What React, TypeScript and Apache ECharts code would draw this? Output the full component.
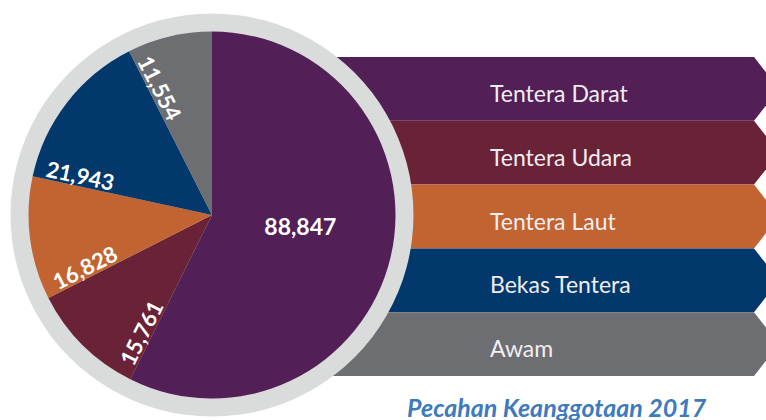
import React, { useEffect, useRef } from "react";
import * as echarts from "echarts";

const CATEGORIES = ["Tentera Darat", "Tentera Udara", "Tentera Laut", "Bekas Tentera", "Awam"];
const VALUES = [88847, 15761, 16828, 21943, 11554];
const COLORS = ["#521f57", "#6a2237", "#c26431", "#02386b", "#6d6e71"];
const TITLE = "Pecahan Keanggotaan 2017";

const CX = 212;
const CY = 215;
const R = 183.5;
const RING_R = 201.5;
const LABEL_DIST = 137;
const LABEL_OFFSET = 11;
const MAIN_LABEL = { r: 89, deg: -7 };

const TOTAL = VALUES.reduce((a, b) => a + b, 0);
const START_ANGLES: number[] = [];
{
  let acc = 0;
  for (const v of VALUES) {
    START_ANGLES.push(90 - (acc / TOTAL) * 360);
    acc += v;
  }
}

function norm(d: number) {
  let r = d % 360;
  if (r > 180) r -= 360;
  if (r <= -180) r += 360;
  return r;
}

export default function App() {
  const ref = useRef<HTMLDivElement>(null);
  useEffect(() => {
    if (!ref.current) return;
    const chart = echarts.init(ref.current, undefined, { renderer: "svg" });
    const toRad = Math.PI / 180;
    chart.setOption({
      animation: false,
      title: {
        text: TITLE,
        left: 407,
        top: 394,
        padding: 0,
        textStyle: {
          fontFamily: "Lato",
          fontStyle: "italic",
          fontWeight: "bold",
          fontSize: 25,
          color: "#3d7bbd",
        },
      },
      grid: { left: 300, right: 0, top: 57, bottom: 44 },
      xAxis: { type: "value", min: 0, max: 1, show: false },
      yAxis: { type: "category", data: CATEGORIES, inverse: true, show: false },
      series: [
        {
          type: "custom",
          z: 1,
          silent: true,
          encode: { x: 0, y: 1 },
          data: CATEGORIES.map((c) => [1, c]),
          renderItem: (params: any, api: any) => {
            const idx = params.dataIndex;
            const yc = api.coord([0, api.value(1)])[1];
            const h = api.size([0, 1])[1];
            const cs = params.coordSys;
            const x0 = cs.x;
            const x1 = cs.x + cs.width - 12;
            const top = yc - h / 2;
            const bot = yc + h / 2;
            return {
              type: "group",
              children: [
                {
                  type: "polygon",
                  shape: {
                    points: [
                      [x0, top],
                      [x1, top],
                      [x1 + 25, yc],
                      [x1, bot],
                      [x0, bot],
                    ],
                  },
                  style: { fill: COLORS[idx] },
                },
                {
                  type: "text",
                  x: 490,
                  y: yc + 4,
                  style: {
                    text: CATEGORIES[idx],
                    fill: "#f1edf1",
                    font: "400 23px Lato",
                    textAlign: "left",
                    textVerticalAlign: "middle",
                    align: "left",
                    verticalAlign: "middle",
                  },
                },
              ],
            };
          },
        },
        {
          type: "pie",
          z: 2,
          silent: true,
          center: [CX, CY],
          radius: [0, RING_R],
          label: { show: false },
          labelLine: { show: false },
          data: [{ value: 1, itemStyle: { color: "#dadcdc" } }],
        },
        {
          type: "pie",
          z: 3,
          silent: true,
          center: [CX, CY],
          radius: [0, R],
          startAngle: 90,
          clockwise: true,
          avoidLabelOverlap: false,
          itemStyle: { borderWidth: 0 },
          label: {
            show: true,
            position: "inside",
            color: "#ffffff",
            fontFamily: "Lato",
            fontWeight: "bold",
            fontSize: 22,
            formatter: (p: any) => Number(p.value).toLocaleString("en-US"),
          },
          labelLine: { show: false },
          labelLayout: (params: any) => {
            const i = params.dataIndex;
            if (i === 0) {
              const a = MAIN_LABEL.deg * toRad;
              return {
                x: CX + MAIN_LABEL.r * Math.cos(a),
                y: CY - MAIN_LABEL.r * Math.sin(a),
                rotate: 0,
                align: "center",
                verticalAlign: "middle",
                fontSize: 23,
              };
            }
            const phi = START_ANGLES[i] * toRad;
            const x = CX + LABEL_DIST * Math.cos(phi) + LABEL_OFFSET * Math.sin(phi);
            const y = CY - LABEL_DIST * Math.sin(phi) + LABEL_OFFSET * Math.cos(phi);
            return {
              x,
              y,
              rotate: norm(START_ANGLES[i] - 180),
              align: "center",
              verticalAlign: "middle",
            };
          },
          data: CATEGORIES.map((name, i) => ({
            name,
            value: VALUES[i],
            itemStyle: { color: COLORS[i] },
          })),
        },
      ],
    });
    return () => chart.dispose();
  }, []);
  return (
    <div
      ref={ref}
      style={{ position: "absolute", left: 0, top: 0, width: 766, height: 420 }}
    />
  );
}
